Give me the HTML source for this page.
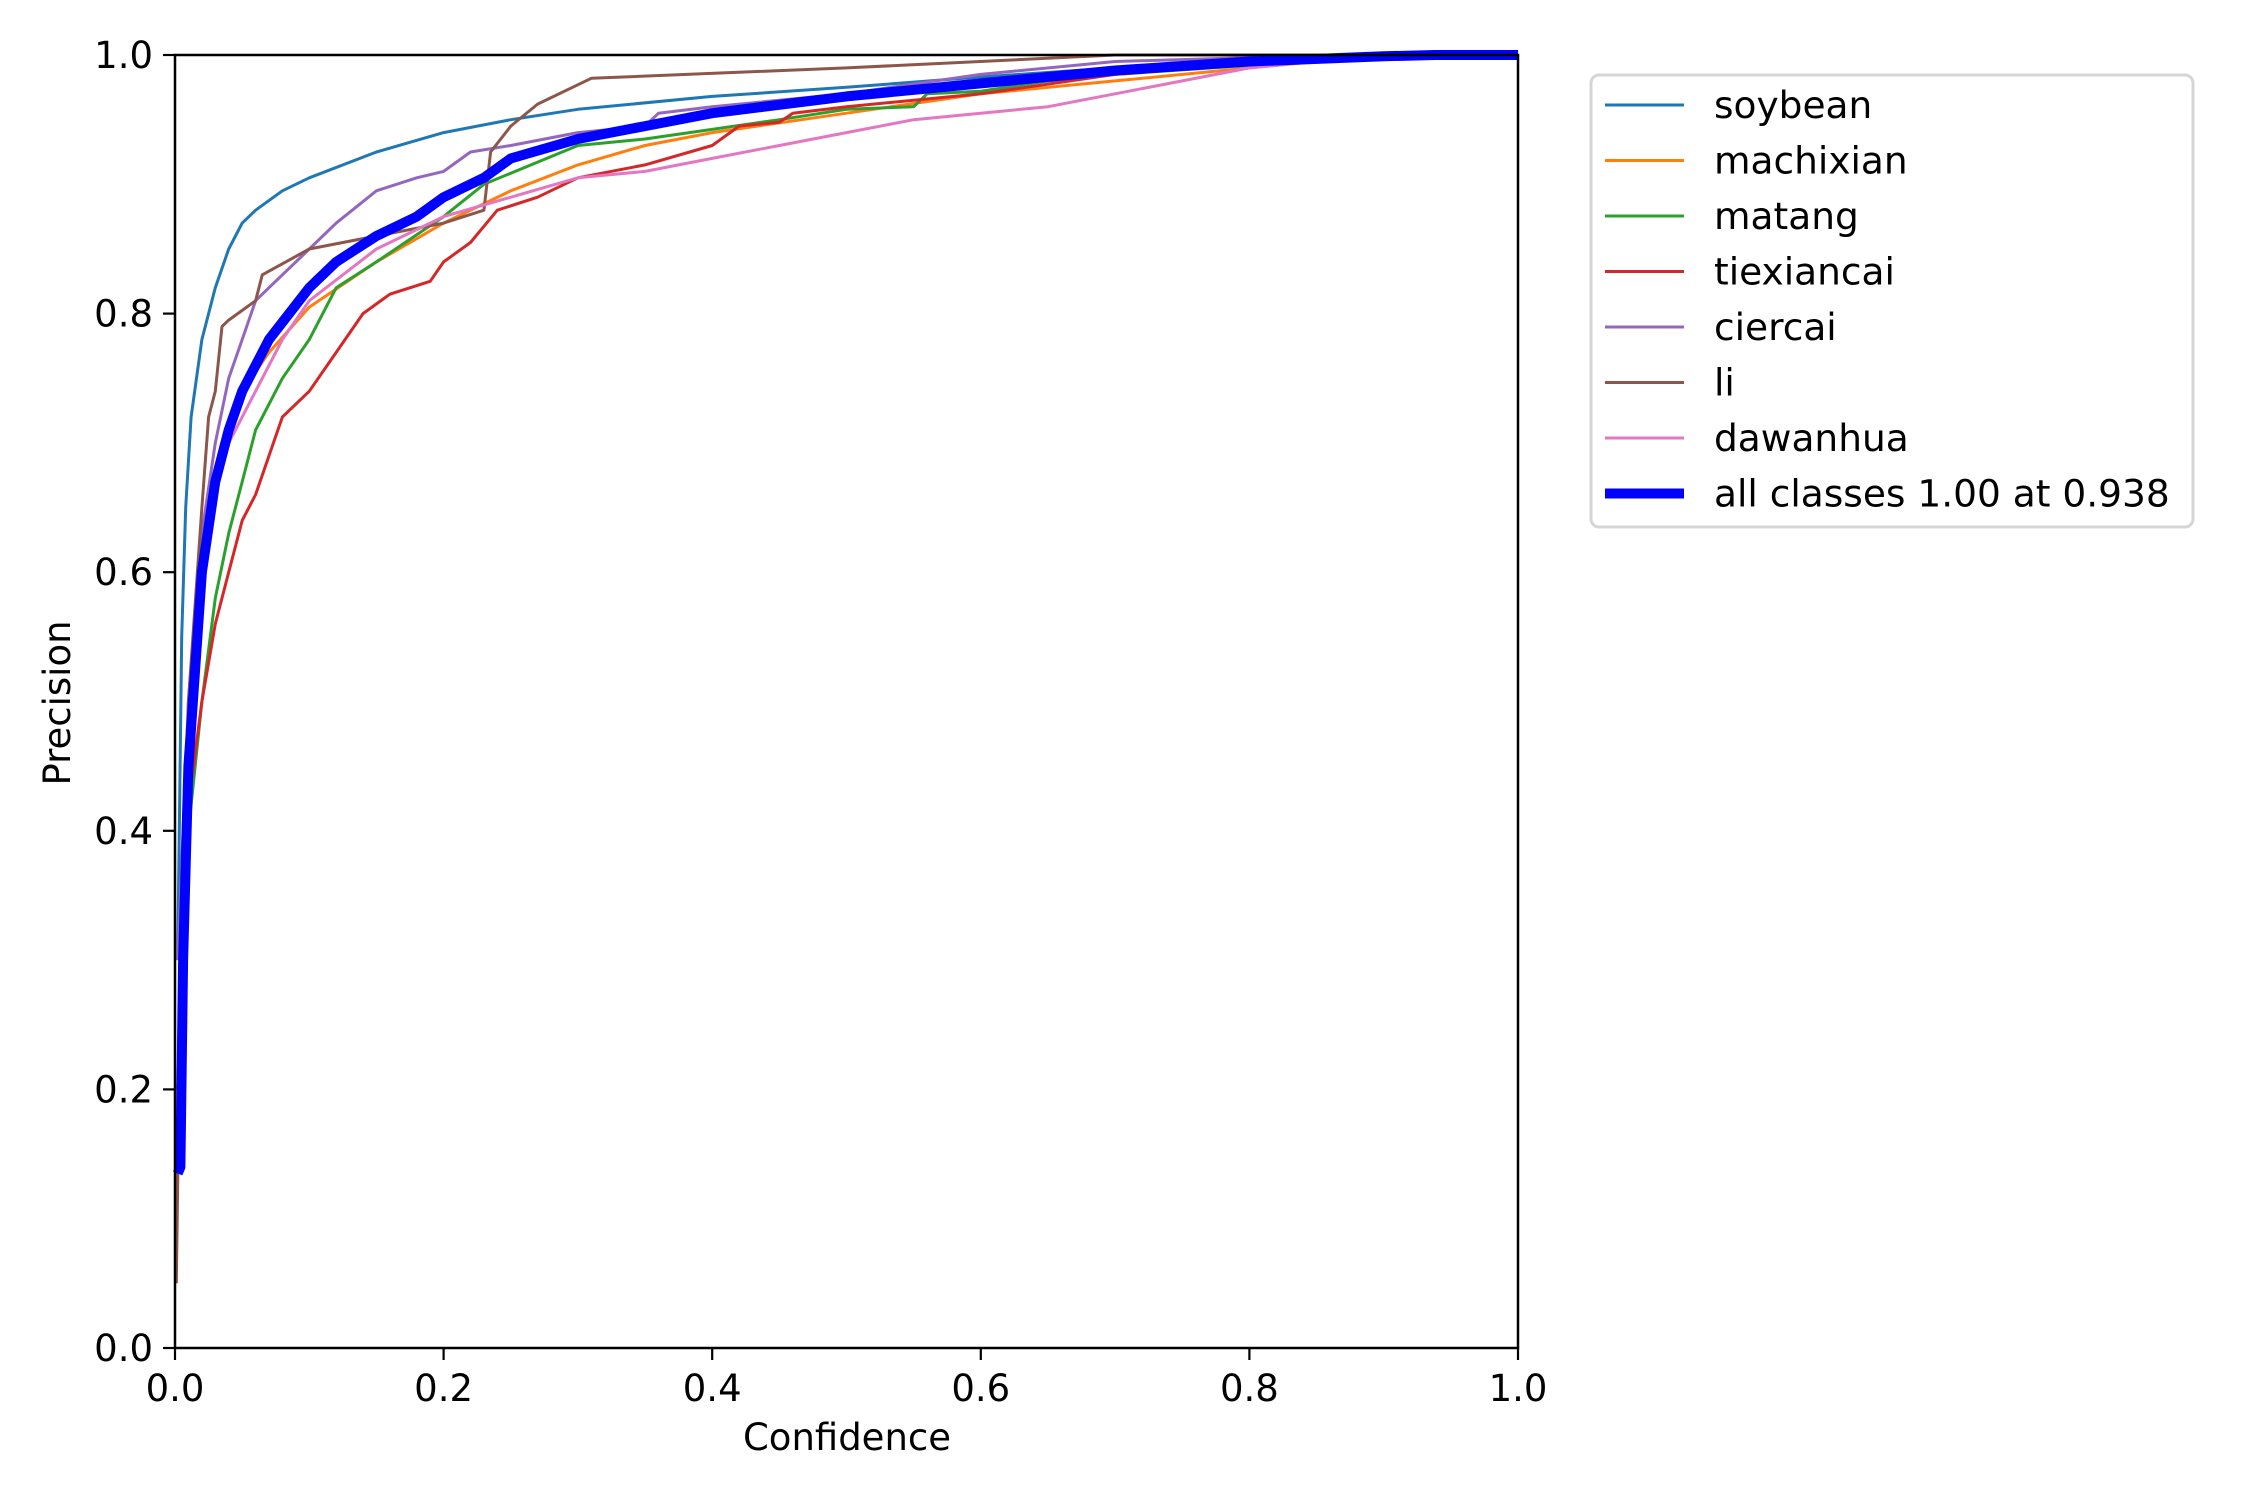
<!DOCTYPE html>
<html><head><meta charset="utf-8"><style>
html,body{margin:0;padding:0;background:#fff;}
svg{display:block;font-family:"DejaVu Sans","Liberation Sans",sans-serif;}
</style></head>
<body>
<svg id="chart" width="2250" height="1500" viewBox="0 0 2250 1500" xmlns="http://www.w3.org/2000/svg">
<rect x="0" y="0" width="2250" height="1500" fill="#fff"/>
<g id="plot"></g>
<g id="axes"></g>
<text x="847" y="1450" font-size="37" text-anchor="middle">Confidence</text>
<text x="70" y="703" font-size="37" text-anchor="middle" transform="rotate(-90 70 703)">Precision</text>
<g id="legend"></g>
</svg>
<script>
const seriesNames = ["soybean","machixian","matang","tiexiancai","ciercai","li","dawanhua","all classes 1.00 at 0.938"];
const seriesColors = ["#1f77b4","#ff7f0e","#2ca02c","#d62728","#9467bd","#8c564b","#e377c2","#0000ff"];
const xTicks = [0,0.2,0.4,0.6,0.8,1.0];
const yTicks = [0,0.2,0.4,0.6,0.8,1.0];
const tickLabels = ["0.0","0.2","0.4","0.6","0.8","1.0"];
const soybeanX = [0.002,0.005,0.008,0.012,0.02,0.03,0.04,0.05,0.06,0.08,0.1,0.15,0.2,0.25,0.3,0.4,0.5,0.6,0.7,0.8,0.9,1];
const soybeanY = [0.3,0.55,0.65,0.72,0.78,0.82,0.85,0.87,0.88,0.895,0.905,0.925,0.94,0.95,0.958,0.968,0.975,0.983,0.99,0.995,0.999,1];
const machixianX = [0.002,0.01,0.02,0.03,0.04,0.05,0.07,0.1,0.15,0.2,0.25,0.3,0.35,0.4,0.5,0.6,0.7,0.8,0.85,0.9,1];
const machixianY = [0.2,0.42,0.58,0.66,0.71,0.74,0.77,0.805,0.84,0.87,0.895,0.915,0.93,0.94,0.955,0.97,0.98,0.99,0.995,1,1];
const matangX = [0.002,0.01,0.02,0.03,0.04,0.05,0.06,0.08,0.1,0.12,0.15,0.2,0.23,0.3,0.35,0.45,0.5,0.55,0.56,0.6,0.65,0.7,0.8,0.9,1];
const matangY = [0.2,0.4,0.5,0.58,0.63,0.67,0.71,0.75,0.78,0.82,0.84,0.875,0.9,0.93,0.935,0.95,0.958,0.96,0.97,0.972,0.98,0.985,0.992,1,1];
const tiexiancaiX = [0.001,0.005,0.01,0.02,0.03,0.04,0.05,0.06,0.07,0.08,0.1,0.12,0.14,0.16,0.19,0.2,0.22,0.24,0.27,0.3,0.35,0.4,0.42,0.45,0.46,0.5,0.6,0.7,0.8,0.9,1];
const tiexiancaiY = [0.1,0.3,0.42,0.5,0.56,0.6,0.64,0.66,0.69,0.72,0.74,0.77,0.8,0.815,0.825,0.84,0.855,0.88,0.89,0.905,0.915,0.93,0.945,0.948,0.955,0.96,0.97,0.985,0.993,1,1];
const ciercaiX = [0.002,0.01,0.02,0.03,0.04,0.05,0.06,0.07,0.08,0.1,0.12,0.15,0.18,0.2,0.22,0.25,0.3,0.35,0.36,0.4,0.5,0.6,0.7,0.8,1];
const ciercaiY = [0.3,0.5,0.63,0.7,0.75,0.78,0.81,0.82,0.83,0.85,0.87,0.895,0.905,0.91,0.925,0.93,0.94,0.945,0.955,0.96,0.97,0.985,0.995,0.998,1];
const liX = [0.001,0.003,0.01,0.02,0.025,0.03,0.035,0.04,0.06,0.065,0.1,0.15,0.2,0.23,0.235,0.25,0.27,0.31,0.5,0.7,1];
const liY = [0.05,0.2,0.5,0.65,0.72,0.74,0.79,0.795,0.81,0.83,0.85,0.86,0.87,0.88,0.925,0.945,0.962,0.982,0.99,1,1];
const dawanhuaX = [0.002,0.01,0.02,0.03,0.04,0.06,0.08,0.1,0.15,0.2,0.25,0.3,0.35,0.4,0.45,0.5,0.55,0.6,0.65,0.7,0.75,0.8,0.9,1];
const dawanhuaY = [0.2,0.45,0.58,0.66,0.7,0.74,0.78,0.81,0.85,0.875,0.89,0.905,0.91,0.92,0.93,0.94,0.95,0.955,0.96,0.97,0.98,0.99,1,1];
const allX = [0.002,0.004,0.006,0.01,0.02,0.03,0.04,0.05,0.07,0.1,0.12,0.15,0.18,0.2,0.23,0.25,0.3,0.35,0.4,0.5,0.6,0.7,0.8,0.9,0.938,1];
const allY = [0.135,0.14,0.3,0.45,0.6,0.67,0.71,0.74,0.78,0.82,0.84,0.86,0.875,0.89,0.905,0.92,0.935,0.945,0.955,0.968,0.978,0.988,0.995,0.999,1,1];

const seriesX = [soybeanX,machixianX,matangX,tiexiancaiX,ciercaiX,liX,dawanhuaX,allX];
const seriesY = [soybeanY,machixianY,matangY,tiexiancaiY,ciercaiY,liY,dawanhuaY,allY];

const L=175,R=1518,T=55,B=1348;
const sx=v=>L+v*(R-L);
const sy=v=>B-v*(B-T);
const NS="http://www.w3.org/2000/svg";
function mk(tag,attrs,parent){const e=document.createElementNS(NS,tag);for(const k in attrs)e.setAttribute(k,attrs[k]);parent.appendChild(e);return e;}

const plot=document.getElementById('plot');
seriesNames.forEach((n,i)=>{
  const pts=seriesX[i].map((x,j)=>sx(x).toFixed(1)+','+sy(seriesY[i][j]).toFixed(1)).join(' ');
  const p=mk('polyline',{points:pts,fill:'none',stroke:seriesColors[i],'stroke-width':i===7?10:3,'stroke-linejoin':'round'},plot);
  
  
});

const axes=document.getElementById('axes');
const frame=mk('rect',{x:L,y:T,width:R-L,height:B-T,fill:'none',stroke:'#000','stroke-width':2.5},axes);


xTicks.forEach((v,i)=>{
  mk('line',{x1:sx(v),x2:sx(v),y1:B,y2:B+12,stroke:'#000','stroke-width':2.2},axes);
  const t=mk('text',{x:sx(v),y:B+53,'font-size':37,'text-anchor':'middle'},axes);
  t.textContent=tickLabels[i];
  
  
});
yTicks.forEach((v,i)=>{
  mk('line',{x1:L-12,x2:L,y1:sy(v),y2:sy(v),stroke:'#000','stroke-width':2.2},axes);
  const t=mk('text',{x:L-22,y:sy(v)+13,'font-size':37,'text-anchor':'end'},axes);
  t.textContent=tickLabels[i];
  
  
});

const lg=document.getElementById('legend');
mk('rect',{x:1591,y:75,width:602,height:452,rx:8,fill:'#fff',stroke:'#d5d5d5','stroke-width':3},lg);
seriesNames.forEach((n,i)=>{
  const y=105+i*55.5;
  const ln=mk('line',{x1:1605,x2:1684,y1:y,y2:y,stroke:seriesColors[i],'stroke-width':i===7?10:3},lg);
  
  
  const t=mk('text',{x:1714,y:y+13,'font-size':37.5},lg);
  t.textContent=n;
  
  
});
</script>
</body></html>
